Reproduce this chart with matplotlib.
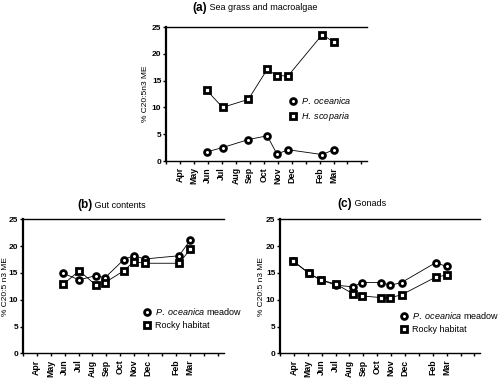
import matplotlib
matplotlib.use('Agg')
import matplotlib.pyplot as plt
from matplotlib.lines import Line2D

plt.rcParams['font.family'] = ['Liberation Sans', 'DejaVu Sans']
plt.rcParams['mathtext.fontset'] = 'custom'
plt.rcParams['mathtext.rm'] = 'Liberation Sans'
plt.rcParams['mathtext.it'] = 'Liberation Sans:italic'

# month tick positions (Apr=1 ... Mar=12), blanks for unlabeled ticks
tick_pos = list(range(0, 15))
tick_labels = ['', 'Apr', 'May', 'Jun', 'Jul', 'Aug', 'Sep', 'Oct', 'Nov',
               'Dec', '', 'Feb', 'Mar', '', '']

# sampling dates, in month units
x_date = {'Apr': 0.95, 'May': 2.1, 'Jun': 2.92, 'Jul': 4.05, 'Aug': 5.25,
          'Sep': 5.9, 'Oct': 7.25, 'Nov': 7.95, 'Dec': 8.75, 'Feb': 11.2,
          'Mar': 12.0}

# (a) sea grass and macroalgae
months_a = ['Jun', 'Jul', 'Sep', 'Oct', 'Nov', 'Dec', 'Feb', 'Mar']
oceanica_a = [1.7, 2.5, 4.0, 4.7, 1.3, 2.1, 1.2, 2.1]
scoparia_a = [13.2, 10.0, 11.5, 17.1, 15.9, 15.9, 23.6, 22.2]

# (b) gut contents
months_b = ['Jun', 'Jul', 'Aug', 'Sep', 'Oct', 'Nov', 'Dec', 'Feb', 'Mar']
meadow_b = [14.9, 13.7, 14.5, 14.1, 17.5, 18.2, 17.6, 18.2, 21.1]
rocky_b = [12.9, 15.4, 12.7, 13.2, 15.4, 17.1, 16.8, 16.8, 19.4]

# (c) gonads
months_c = ['Apr', 'May', 'Jun', 'Jul', 'Aug', 'Sep', 'Oct', 'Nov', 'Dec',
            'Feb', 'Mar']
meadow_c = [17.2, 14.9, 13.7, 12.7, 12.4, 13.2, 13.2, 12.7, 13.2, 16.9, 16.2]
rocky_c = [17.2, 14.9, 13.7, 12.9, 11.1, 10.7, 10.4, 10.4, 10.9, 14.2, 14.6]

W, H = 499, 378
fig = plt.figure(figsize=(W / 100, H / 100), dpi=100)


def make_ax(x0, x1, ytop, ybot):
    return fig.add_axes([x0 / W, 1 - ybot / H, (x1 - x0) / W, (ybot - ytop) / H])


mk_circ = dict(marker='o', ms=4.2, mfc='white', mec='black', mew=2.0)
mk_sq = dict(marker='s', ms=4.2, mfc='white', mec='black', mew=2.0)
line_kw = dict(color='black', lw=0.6)


def style(ax, ylabel, label_x):
    ax.set_xlim(0, 14.4)
    ax.set_ylim(0, 25)
    ax.set_yticks([0, 5, 10, 15, 20, 25])
    ax.set_xticks(tick_pos)
    ax.set_xticklabels(tick_labels, rotation=90, fontsize=6.3, fontweight='bold')
    for lab in ax.get_yticklabels():
        lab.set_fontweight('bold')
    ax.tick_params(axis='y', labelsize=6, length=2.5, width=1, pad=0.8)
    ax.tick_params(axis='x', length=2.5, width=1, pad=2)
    ax.spines['right'].set_visible(False)
    ax.spines['left'].set_linewidth(1.6)
    ax.spines['bottom'].set_linewidth(1.0)
    ax.spines['top'].set_linewidth(1.0)
    ax.set_ylabel(ylabel, fontsize=6)
    ax.yaxis.set_label_coords(label_x, 0.5)


def legend(ax, labels, x, y):
    handles = [Line2D([], [], ls='none', **mk_circ),
               Line2D([], [], ls='none', **mk_sq)]
    ax.legend(handles, labels, loc='upper left', bbox_to_anchor=(x, y),
              frameon=False, fontsize=6.5, handlelength=0.8, handletextpad=0.5,
              borderpad=0, borderaxespad=0, labelspacing=0.45)


def title(ax, x, y, letter, text):
    t = fig.text(x / W, 1 - y / H, letter, fontsize=8.5, fontweight='bold',
                 va='center', ha='left')
    ax.annotate(' ' + text, xy=(1, 0.5), xycoords=t, va='center', ha='left',
                fontsize=6.5, annotation_clip=False)


# (a)
ax_a = make_ax(166, 367, 27, 161)
ax_a.plot([x_date[m] for m in months_a], oceanica_a, **mk_circ, **line_kw)
ax_a.plot([x_date[m] for m in months_a], scoparia_a, **mk_sq, **line_kw)
style(ax_a, '% C20:5n3 ME', -0.085)
legend(ax_a, [r'$\it{P.\ oceanica}$', r'$\it{H.\ scoparia}$'], 0.615, 0.49)

# (b)
ax_b = make_ax(22.7, 223.7, 219.3, 353.3)
ax_b.plot([x_date[m] for m in months_b], meadow_b, **mk_circ, **line_kw)
ax_b.plot([x_date[m] for m in months_b], rocky_b, **mk_sq, **line_kw)
style(ax_b, '% C20:5 n3 ME', -0.07)
legend(ax_b, [r'$\it{P.\ oceanica}$ meadow', 'Rocky habitat'], 0.6, 0.35)

# (c)
ax_c = make_ax(280, 480, 219.3, 353.3)
ax_c.plot([x_date[m] for m in months_c], meadow_c, **mk_circ, **line_kw)
ax_c.plot([x_date[m] for m in months_c], rocky_c, **mk_sq, **line_kw)
style(ax_c, '% C20:5 n3 ME', -0.075)
legend(ax_c, [r'$\it{P.\ oceanica}$ meadow', 'Rocky habitat'], 0.6, 0.32)

title(ax_a, 192, 8, '(a)', 'Sea grass and macroalgae')
title(ax_b, 77, 205, '(b)', 'Gut contents')
title(ax_c, 337, 204, '(c)', 'Gonads')

fig.savefig('out.png', dpi=100)
